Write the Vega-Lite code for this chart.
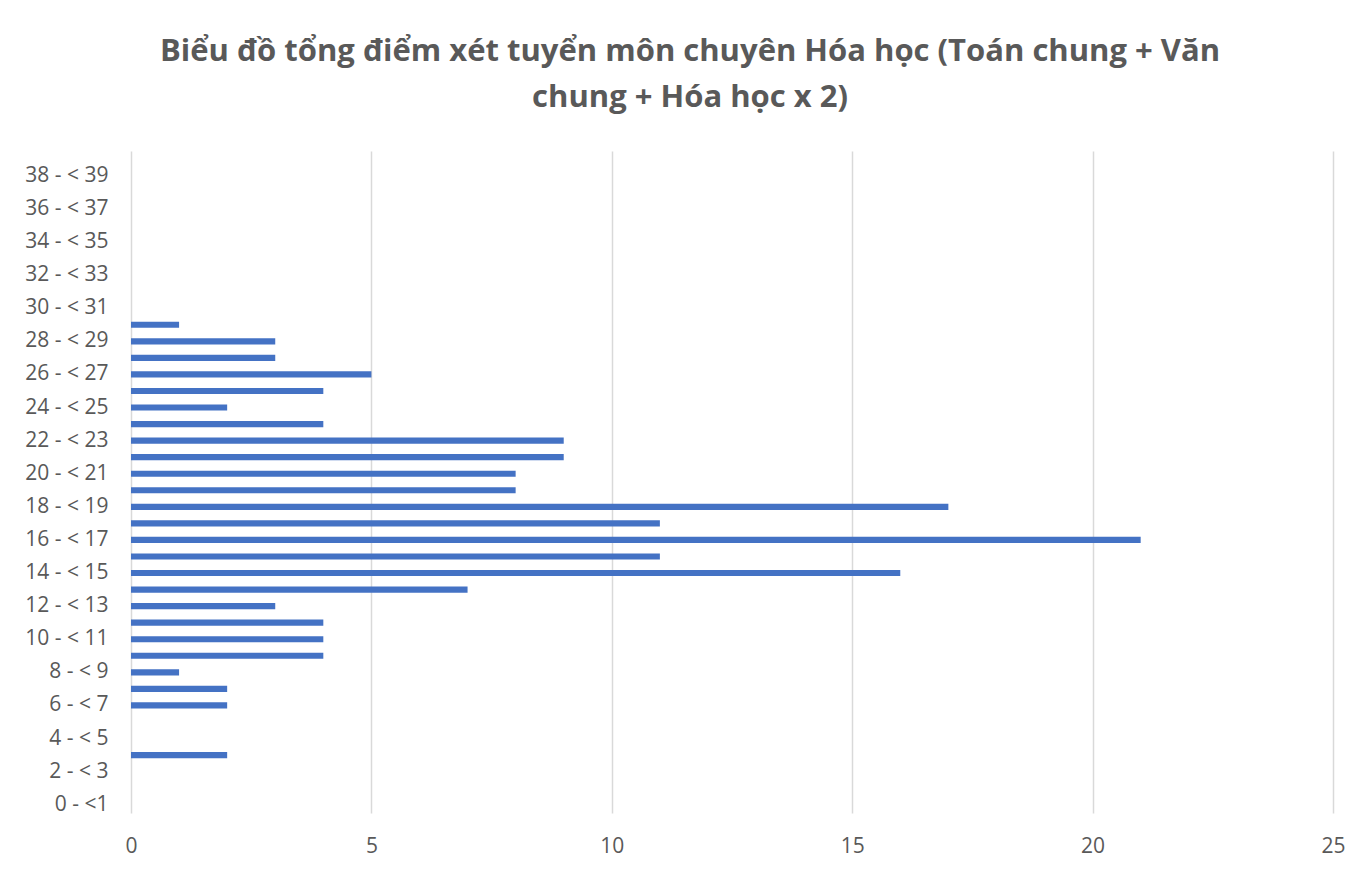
{
  "$schema": "https://vega.github.io/schema/vega-lite/v6.json",
  "width": 1202,
  "height": 662,
  "autosize": {"type": "none"},
  "padding": {"left": 131, "top": 151, "right": 31, "bottom": 56},
  "background": "white",
  "title": {
    "text": ["Biểu đồ tổng điểm xét tuyển môn chuyên Hóa học (Toán chung + Văn", "chung + Hóa học x 2)"],
    "font": "Open Sans",
    "fontSize": 31,
    "fontWeight": "bold",
    "color": "#595959",
    "lineHeight": 46,
    "anchor": "middle",
    "dx": -42,
    "offset": 37
  },
  "data": {
    "values": [
      {"cat": "0 - <1", "n": 0},
      {"cat": "1 - < 2", "n": 0},
      {"cat": "2 - < 3", "n": 0},
      {"cat": "3 - < 4", "n": 2},
      {"cat": "4 - < 5", "n": 0},
      {"cat": "5 - < 6", "n": 0},
      {"cat": "6 - < 7", "n": 2},
      {"cat": "7 - < 8", "n": 2},
      {"cat": "8 - < 9", "n": 1},
      {"cat": "9 - < 10", "n": 4},
      {"cat": "10 - < 11", "n": 4},
      {"cat": "11 - < 12", "n": 4},
      {"cat": "12 - < 13", "n": 3},
      {"cat": "13 - < 14", "n": 7},
      {"cat": "14 - < 15", "n": 16},
      {"cat": "15 - < 16", "n": 11},
      {"cat": "16 - < 17", "n": 21},
      {"cat": "17 - < 18", "n": 11},
      {"cat": "18 - < 19", "n": 17},
      {"cat": "19 - < 20", "n": 8},
      {"cat": "20 - < 21", "n": 8},
      {"cat": "21 - < 22", "n": 9},
      {"cat": "22 - < 23", "n": 9},
      {"cat": "23 - < 24", "n": 4},
      {"cat": "24 - < 25", "n": 2},
      {"cat": "25 - < 26", "n": 4},
      {"cat": "26 - < 27", "n": 5},
      {"cat": "27 - < 28", "n": 3},
      {"cat": "28 - < 29", "n": 3},
      {"cat": "29 - < 30", "n": 1},
      {"cat": "30 - < 31", "n": 0},
      {"cat": "31 - < 32", "n": 0},
      {"cat": "32 - < 33", "n": 0},
      {"cat": "33 - < 34", "n": 0},
      {"cat": "34 - < 35", "n": 0},
      {"cat": "35 - < 36", "n": 0},
      {"cat": "36 - < 37", "n": 0},
      {"cat": "37 - < 38", "n": 0},
      {"cat": "38 - < 39", "n": 0},
      {"cat": "39 - < 40", "n": 0}
    ]
  },
  "mark": {"type": "bar", "color": "#4472C4"},
  "encoding": {
    "y": {
      "field": "cat",
      "type": "nominal",
      "scale": {
        "domain": ["39 - < 40", "38 - < 39", "37 - < 38", "36 - < 37", "35 - < 36", "34 - < 35", "33 - < 34", "32 - < 33", "31 - < 32", "30 - < 31", "29 - < 30", "28 - < 29", "27 - < 28", "26 - < 27", "25 - < 26", "24 - < 25", "23 - < 24", "22 - < 23", "21 - < 22", "20 - < 21", "19 - < 20", "18 - < 19", "17 - < 18", "16 - < 17", "15 - < 16", "14 - < 15", "13 - < 14", "12 - < 13", "11 - < 12", "10 - < 11", "9 - < 10", "8 - < 9", "7 - < 8", "6 - < 7", "5 - < 6", "4 - < 5", "3 - < 4", "2 - < 3", "1 - < 2", "0 - <1"],
        "paddingInner": 0.63,
        "paddingOuter": 0.315
      },
      "axis": {
        "title": null,
        "values": ["38 - < 39", "36 - < 37", "34 - < 35", "32 - < 33", "30 - < 31", "28 - < 29", "26 - < 27", "24 - < 25", "22 - < 23", "20 - < 21", "18 - < 19", "16 - < 17", "14 - < 15", "12 - < 13", "10 - < 11", "8 - < 9", "6 - < 7", "4 - < 5", "2 - < 3", "0 - <1"],
        "domain": false,
        "ticks": false,
        "grid": false,
        "labelFont": "Open Sans",
        "labelFontSize": 21,
        "labelColor": "#595959",
        "labelPadding": 23
      }
    },
    "x": {
      "field": "n",
      "type": "quantitative",
      "scale": {"domain": [0, 25], "nice": false},
      "axis": {
        "title": null,
        "values": [0, 5, 10, 15, 20, 25],
        "domain": false,
        "ticks": false,
        "grid": true,
        "gridColor": "#D9D9D9",
        "gridWidth": 1.5,
        "labelFlush": false,
        "labelFont": "Open Sans",
        "labelFontSize": 21,
        "labelColor": "#595959",
        "labelPadding": 22
      }
    }
  },
  "config": {"view": {"stroke": null}}
}
